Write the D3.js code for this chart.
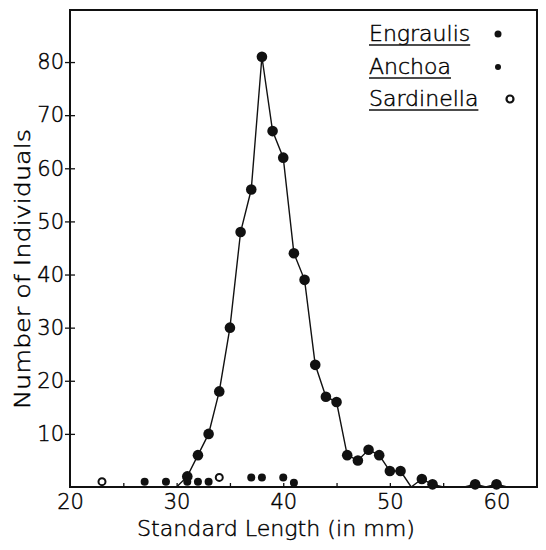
<!DOCTYPE html>
<html>
<head>
<meta charset="utf-8">
<script src="https://cdn.jsdelivr.net/npm/d3@7"></script>
<style>
  body { margin: 0; background: #fff; }
  text { font-family: "DejaVu Sans", sans-serif; font-weight: 200; fill: #000; stroke: #000; stroke-width: 0.45px; }
</style>
</head>
<body>
<script>
// Engraulis: standard length (mm) and count, connected by a line
const engraulisLength = [30, 31, 32, 33, 34, 35, 36, 37, 38, 39, 40, 41, 42, 43, 44, 45, 46, 47, 48, 49, 50, 51, 52, 53, 54, 55, 56, 57, 58, 59, 60, 61]
const engraulisCount  = [0, 2, 6, 10, 18, 30, 48, 56, 81, 67, 62, 44, 39, 23, 17, 16, 6, 5, 7, 6, 3, 3, 0, 1.5, 0.5, 0, 0, 0, 0.5, 0, 0.5, 0]

// Anchoa: loose points near the axis
const anchoaLength = [27, 29, 31, 32, 33, 37, 38, 40, 41]
const anchoaCount  = [1, 1, 1, 1, 1, 1.8, 1.8, 1.8, 0.8]

// Sardinella: open circles
const sardinellaLength = [23, 34]
const sardinellaCount  = [1, 1.8]

const xTickLabels = [20, 30, 40, 50, 60]
const xTickMarks = [25, 30, 35, 40, 45, 50, 55, 60]
const yTickLabels = [10, 20, 30, 40, 50, 60, 70, 80]
const legendNames = ["Engraulis", "Anchoa", "Sardinella"]

const width = 546, height = 550

const x = d3.scaleLinear()
    .domain([20, 63.8])
    .range([70, 537])

const y = d3.scaleLinear()
    .domain([0, 89.8])
    .range([487, 10])

const svg = d3.select("body")
    .append("svg")
    .attr("width", width)
    .attr("height", height)

// frame
svg.append("rect")
    .attr("x", x(20))
    .attr("y", y(89.8))
    .attr("width", x(63.8) - x(20))
    .attr("height", y(0) - y(89.8))
    .style("fill", "none")
    .style("stroke", "#111")
    .style("stroke-width", "2px")

// x axis: small inward ticks every 5 mm
const xAxisTicks = svg.append("g")
    .attr("transform", "translate(0," + y(0) + ")")
    .call(d3.axisBottom(x).tickValues(xTickMarks).tickSizeInner(-4).tickSizeOuter(0).tickFormat(""))
xAxisTicks.select(".domain").remove()
xAxisTicks.selectAll("line").style("stroke", "#111").style("stroke-width", "1.3px")

const xAxisLabels = svg.append("g")
    .attr("transform", "translate(0," + y(0) + ")")
    .call(d3.axisBottom(x).tickValues(xTickLabels).tickSize(0).tickPadding(7))
xAxisLabels.select(".domain").remove()
xAxisLabels.selectAll("text")
    .style("font-family", "DejaVu Sans, sans-serif")
    .style("font-size", "21px")
    .style("font-weight", 200)
    .style("fill", "#000")

// y axis
const yAxis = svg.append("g")
    .attr("transform", "translate(" + x(20) + ",0)")
    .call(d3.axisLeft(y).tickValues(yTickLabels).tickSize(5).tickPadding(1))
yAxis.select(".domain").remove()
yAxis.selectAll("line").attr("x1", 5).style("stroke", "#111").style("stroke-width", "1.3px")
yAxis.selectAll("text")
    .style("font-family", "DejaVu Sans, sans-serif")
    .style("font-size", "21px")
    .style("font-weight", 200)
    .style("fill", "#000")

// axis titles
svg.append("text")
    .attr("x", 276)
    .attr("y", 536)
    .attr("text-anchor", "middle")
    .attr("textLength", 278)
    .attr("lengthAdjust", "spacingAndGlyphs")
    .style("font-size", "22px")
    .text("Standard Length (in mm)")

svg.append("text")
    .attr("transform", "translate(30,269) rotate(-90)")
    .attr("text-anchor", "middle")
    .attr("textLength", 280)
    .attr("lengthAdjust", "spacingAndGlyphs")
    .style("font-size", "22px")
    .text("Number of Individuals")

// Engraulis line and points
const engraulis = engraulisLength.map((d, i) => ({ len: d, n: engraulisCount[i] }))

const line = d3.line()
    .x(function (d) { return x(d.len); })
    .y(function (d) { return y(d.n); })

svg.append("path")
    .datum(engraulis)
    .attr("d", line)
    .style("stroke", "#111")
    .style("stroke-width", "1.4px")
    .style("fill", "none")

svg.selectAll(".engraulis")
    .data(engraulis.filter(d => d.n > 0))
    .enter().append("circle")
    .attr("class", "engraulis")
    .attr("cx", d => x(d.len))
    .attr("cy", d => y(d.n))
    .attr("r", 5.3)
    .style("fill", "#111")

// Anchoa points
svg.selectAll(".anchoa")
    .data(anchoaLength.map((d, i) => ({ len: d, n: anchoaCount[i] })))
    .enter().append("circle")
    .attr("class", "anchoa")
    .attr("cx", d => x(d.len))
    .attr("cy", d => y(d.n))
    .attr("r", 4)
    .style("fill", "#111")

// Sardinella points
svg.selectAll(".sardinella")
    .data(sardinellaLength.map((d, i) => ({ len: d, n: sardinellaCount[i] })))
    .enter().append("circle")
    .attr("class", "sardinella")
    .attr("cx", d => x(d.len))
    .attr("cy", d => y(d.n))
    .attr("r", 3.5)
    .style("fill", "none")
    .style("stroke", "#111")
    .style("stroke-width", "2px")

// legend
const legendY = [41, 74, 106]
const legendMarkX = [498, 498, 510]
legendNames.forEach((name, i) => {
    const t = svg.append("text")
        .attr("x", 369)
        .attr("y", legendY[i])
        .style("font-size", "22px")
        .text(name)
    const w = t.node().getComputedTextLength()
    svg.append("line")
        .attr("x1", 369).attr("x2", 369 + w)
        .attr("y1", legendY[i] + 4).attr("y2", legendY[i] + 4)
        .style("stroke", "#111")
        .style("stroke-width", "1.3px")
    const m = svg.append("circle")
        .attr("cx", legendMarkX[i])
        .attr("cy", legendY[i] - 7)
    if (i === 2) {
        m.attr("r", 3.5).style("fill", "none").style("stroke", "#111").style("stroke-width", "2.2px")
    } else {
        m.attr("r", i === 0 ? 3.5 : 3).style("fill", "#111")
    }
})
</script>
</body>
</html>
